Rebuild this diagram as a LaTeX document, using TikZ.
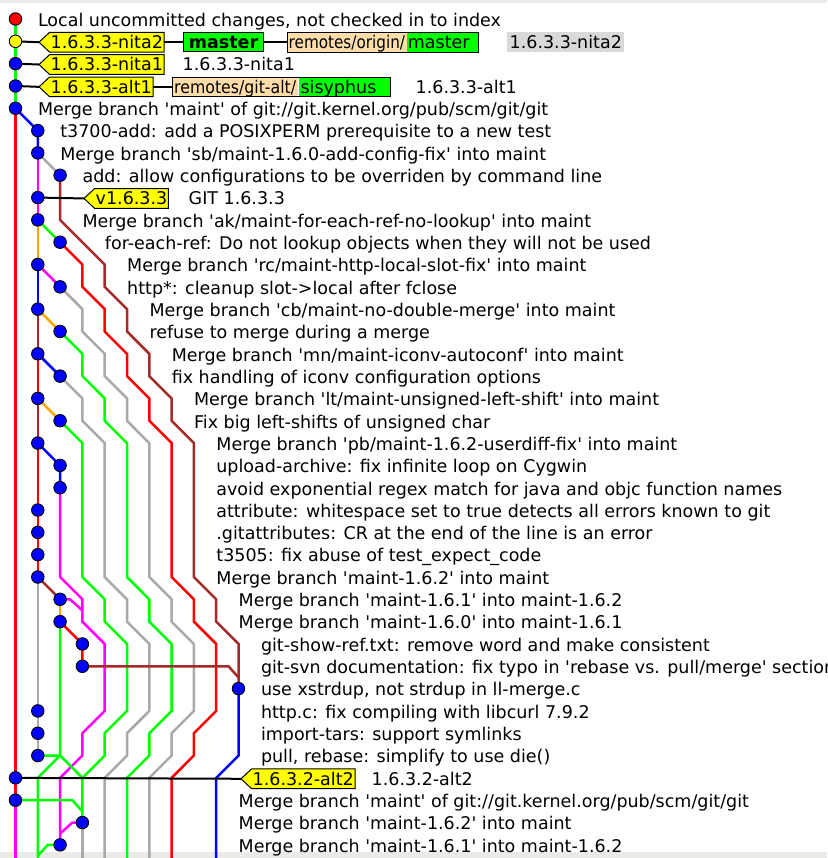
\documentclass[tikz,border=0pt]{standalone}
\usepackage{fontspec}
\setmainfont{DejaVu Sans}[Ligatures=TeXOff]
\definecolor{gblue}{HTML}{0000FF}
\definecolor{gred}{HTML}{FF0000}
\definecolor{ggreen}{HTML}{00FF00}
\definecolor{gmag}{HTML}{FF00FF}
\definecolor{ggray}{HTML}{A9A9A9}
\definecolor{gbrown}{HTML}{A52A2A}
\definecolor{gorange}{HTML}{FFA500}
\definecolor{tagyel}{HTML}{FFFF00}
\definecolor{rbeige}{HTML}{FFDDAA}
\definecolor{selgray}{HTML}{D9D9D9}
\definecolor{framegray}{HTML}{ECEAE6}
\pgfdeclarelayer{back}
\pgfdeclarelayer{lines}
\pgfsetlayers{back,lines,main}
\begin{document}
\begin{tikzpicture}[x=1pt,y=-1pt,font=\fontsize{17.5}{21}\selectfont,
  gl/.style={line width=2.5pt},
  bl/.style={line width=2pt,black},
  dot/.style={circle,draw=black,line width=0.9pt,fill=gblue,minimum size=12.5pt,inner sep=0pt},
  msg/.style={anchor=base west,inner sep=0pt,yshift=-7.3pt},
  plain/.style={anchor=base west,inner sep=0pt},
  box/.style={anchor=base west,inner xsep=2pt,inner ysep=3.2pt,text height=12.8pt,text depth=0pt},
  tagbox/.style={box,inner xsep=1pt},
  tagshape/.style={fill=tagyel,draw=black,line width=1pt}]
\useasboundingbox (0,0) rectangle (827,858);
% ---------- dots and messages ----------
\begin{scope}[shift={(15.5,19)},x=22.3pt,y=-22.32pt]
\node[dot,fill=gred] (d0) at (0,0) {};
\node[dot,fill=tagyel] (d1) at (0,1) {};
\node[dot] (d2) at (0,2) {};
\node[dot] (d3) at (0,3) {};
\node[dot] (d4) at (0,4) {};
\node[dot] (d5) at (1,5) {};
\node[dot] (d6) at (1,6) {};
\node[dot] (d7) at (2,7) {};
\node[dot] (d8) at (1,8) {};
\node[dot] (d9) at (1,9) {};
\node[dot] (d10) at (2,10) {};
\node[dot] (d11) at (1,11) {};
\node[dot] (d12) at (2,12) {};
\node[dot] (d13) at (1,13) {};
\node[dot] (d14) at (2,14) {};
\node[dot] (d15) at (1,15) {};
\node[dot] (d16) at (2,16) {};
\node[dot] (d17) at (1,17) {};
\node[dot] (d18) at (2,18) {};
\node[dot] (d19) at (1,19) {};
\node[dot] (d20) at (2,20) {};
\node[dot] (d21) at (2,21) {};
\node[dot] (d22) at (1,22) {};
\node[dot] (d23) at (1,23) {};
\node[dot] (d24) at (1,24) {};
\node[dot] (d25) at (1,25) {};
\node[dot] (d26) at (2,26) {};
\node[dot] (d27) at (2,27) {};
\node[dot] (d28) at (3,28) {};
\node[dot] (d29) at (3,29) {};
\node[dot] (d30) at (10,30) {};
\node[dot] (d31) at (1,31) {};
\node[dot] (d32) at (1,32) {};
\node[dot] (d33) at (1,33) {};
\node[dot] (d34) at (0,34) {};
\node[dot] (d35) at (0,35) {};
\node[dot] (d36) at (3,36) {};
\node[dot] (d37) at (2,37) {};
\node[msg] (m0) at (1,0) {Local uncommitted changes, not checked in to index};
\node[msg] (m4) at (1,4) {Merge branch 'maint' of git://git.kernel.org/pub/scm/git/git};
\node[msg] (m5) at (2,5) {t3700-add: add a POSIXPERM prerequisite to a new test};
\node[msg] (m6) at (2,6) {Merge branch 'sb/maint-1.6.0-add-config-fix' into maint};
\node[msg] (m7) at (3,7) {add: allow configurations to be overriden by command line};
\node[msg] (m9) at (3,9) {Merge branch 'ak/maint-for-each-ref-no-lookup' into maint};
\node[msg] (m10) at (4,10) {for-each-ref: Do not lookup objects when they will not be used};
\node[msg] (m11) at (5,11) {Merge branch 'rc/maint-http-local-slot-fix' into maint};
\node[msg] (m12) at (5,12) {http*: cleanup slot->local after fclose};
\node[msg] (m13) at (6,13) {Merge branch 'cb/maint-no-double-merge' into maint};
\node[msg] (m14) at (6,14) {refuse to merge during a merge};
\node[msg] (m15) at (7,15) {Merge branch 'mn/maint-iconv-autoconf' into maint};
\node[msg] (m16) at (7,16) {fix handling of iconv configuration options};
\node[msg] (m17) at (8,17) {Merge branch 'lt/maint-unsigned-left-shift' into maint};
\node[msg] (m18) at (8,18) {Fix big left-shifts of unsigned char};
\node[msg] (m19) at (9,19) {Merge branch 'pb/maint-1.6.2-userdiff-fix' into maint};
\node[msg] (m20) at (9,20) {upload-archive: fix infinite loop on Cygwin};
\node[msg] (m21) at (9,21) {avoid exponential regex match for java and objc function names};
\node[msg] (m22) at (9,22) {attribute: whitespace set to true detects all errors known to git};
\node[msg] (m23) at (9,23) {.gitattributes: CR at the end of the line is an error};
\node[msg] (m24) at (9,24) {t3505: fix abuse of test\_expect\_code};
\node[msg] (m25) at (9,25) {Merge branch 'maint-1.6.2' into maint};
\node[msg] (m26) at (10,26) {Merge branch 'maint-1.6.1' into maint-1.6.2};
\node[msg] (m27) at (10,27) {Merge branch 'maint-1.6.0' into maint-1.6.1};
\node[msg] (m28) at (11,28) {git-show-ref.txt: remove word and make consistent};
\node[msg] (m29) at (11,29) {git-svn documentation: fix typo in 'rebase vs. pull/merge' section};
\node[msg] (m30) at (11,30) {use xstrdup, not strdup in ll-merge.c};
\node[msg] (m31) at (11,31) {http.c: fix compiling with libcurl 7.9.2};
\node[msg] (m32) at (11,32) {import-tars: support symlinks};
\node[msg] (m33) at (11,33) {pull, rebase: simplify to use die()};
\node[msg] (m35) at (10,35) {Merge branch 'maint' of git://git.kernel.org/pub/scm/git/git};
\node[msg] (m36) at (10,36) {Merge branch 'maint-1.6.2' into maint};
\node[msg] (m37) at (10,37) {Merge branch 'maint-1.6.1' into maint-1.6.2};
\end{scope}
% ---------- tags, heads, remotes ----------
\node[tagbox] (t1) at (49.5,48.62) {1.6.3.3-nita2};
\node[tagbox] (t2) at (49.5,70.94) {1.6.3.3-nita1};
\node[tagbox] (t3) at (49.5,93.26) {1.6.3.3-alt1};
\node[tagbox] (t8) at (94.5,204.86) {v1.6.3.3};
\node[tagbox] (t34) at (251.5,785.18) {1.6.3.2-alt2};
\coordinate (t1tip) at ([xshift=-10.5pt]t1.west);
\coordinate (t2tip) at ([xshift=-10.5pt]t2.west);
\coordinate (t3tip) at ([xshift=-10.5pt]t3.west);
\coordinate (t8tip) at ([xshift=-10.5pt]t8.west);
\coordinate (t34tip) at ([xshift=-10.5pt]t34.west);
\node[box,fill=ggreen,draw=black,line width=1pt,minimum width=80pt,font=\fontsize{17.5}{21}\selectfont\bfseries] (hm) at (183,48.62) {master};
\node[box,fill=rbeige,inner xsep=1.5pt] (ro1) at (287,48.62) {\scalebox{0.87}[1]{remotes/origin/}};
\node[box,fill=ggreen,inner xsep=1pt] (ro2) at (ro1.base east) {\makebox[69pt][l]{master}};
\draw[line width=1pt] (ro1.north west) rectangle (ro2.south east);
\node[box,fill=selgray,inner xsep=2.5pt,inner ysep=3.8pt] (sel) at (507,48.62) {1.6.3.3-nita2};
\node[plain] (n2) at (182.5,70.94) {1.6.3.3-nita1};
\node[box,fill=rbeige,inner xsep=2pt] (a1) at (172,93.26) {\scalebox{0.9}[1]{remotes/git-alt/}};
\node[box,fill=ggreen,inner xsep=2pt] (a2) at (a1.base east) {\makebox[88pt][l]{sisyphus}};
\draw[line width=1pt] (a1.north west) rectangle (a2.south east);
\node[plain] (n3) at (415.5,93.26) {1.6.3.3-alt1};
\node[plain] (n8) at (188.5,204.86) {GIT 1.6.3.3};
\node[plain] (n34) at (371.5,785.18) {1.6.3.2-alt2};
% ---------- graph lines ----------
\begin{pgfonlayer}{lines}
\begin{scope}[shift={(15.5,19)},x=22.3pt,y=-22.32pt]
\draw[gl,ggreen] (d0.center) -- (d1.center) -- (d2.center) -- (d3.center) -- (d4.center);
\draw[gl,gred] (d4.center) -- (d34.center) -- (d35.center);
\draw[gl,gmag] (d35.center) -- (0,38.5);
\draw[gl,gblue] (d4.center) -- (d5.center) -- (d6.center);
\draw[gl,ggray] (d6.center) -- (d7.center);
\draw[gl,gmag] (d6.center) -- (d8.center) -- (d9.center);
\draw[gl,gbrown] (d7.center) -- (2,9) -- (4,11) -- (4,12) -- (5,13) -- (5,14) -- (6,15) -- (6,16) -- (7,17) -- (7,18) -- (8,19) -- (8,25) -- (9,26) -- (9,27) -- (10,28) -- (d30.center);
\draw[gl,ggreen] (d9.center) -- (d10.center);
\draw[gl,gorange] (d9.center) -- (d11.center);
\draw[gl,gred] (d10.center) -- (3,11) -- (3,12) -- (4,13) -- (4,14) -- (5,15) -- (5,16) -- (6,17) -- (6,18) -- (7,19) -- (7,25) -- (8,26) -- (8,27) -- (9,28) -- (9,31) -- (8,32) -- (8,33) -- (7,34) -- (7,38.5);
\draw[gl,gmag] (d11.center) -- (d12.center);
\draw[gl,gblue] (d11.center) -- (d13.center);
\draw[gl,ggray] (d12.center) -- (3,13) -- (3,14) -- (4,15) -- (4,16) -- (5,17) -- (5,18) -- (6,19) -- (6,25) -- (7,26) -- (7,27) -- (8,28) -- (8,31) -- (7,32) -- (7,33) -- (6,34) -- (6,38.5);
\draw[gl,gorange] (d13.center) -- (d14.center);
\draw[gl,gbrown] (d13.center) -- (d15.center);
\draw[gl,ggreen] (d14.center) -- (3,15) -- (3,16) -- (4,17) -- (4,18) -- (5,19) -- (5,25) -- (6,26) -- (6,27) -- (7,28) -- (7,31) -- (6,32) -- (6,33) -- (5,34) -- (5,38.5);
\draw[gl,gblue] (d15.center) -- (d16.center);
\draw[gl,gred] (d15.center) -- (d17.center);
\draw[gl,ggray] (d16.center) -- (3,17) -- (3,18) -- (4,19) -- (4,25) -- (5,26) -- (5,27) -- (6,28) -- (6,31) -- (5,32) -- (5,33) -- (4,34) -- (4,38.5);
\draw[gl,gorange] (d17.center) -- (d18.center);
\draw[gl,gbrown] (d17.center) -- (d19.center);
\draw[gl,ggreen] (d18.center) -- (3,19) -- (3,25) -- (4,26) -- (4,27) -- (5,28) -- (5,31) -- (4,32) -- (4,33) -- (3,34) -- (d36.center);
\draw[gl,gblue] (d19.center) -- (d20.center) -- (d21.center);
\draw[gl,gred] (d19.center) -- (d22.center) -- (d23.center) -- (d24.center) -- (d25.center);
\draw[gl,gmag] (d21.center) -- (2,25) -- (3,26) -- (3,27) -- (4,28) -- (4,31) -- (3,32) -- (3,33) -- (2,34) -- (d37.center);
\draw[gl,ggray] (d25.center) -- (d31.center) -- (d32.center) -- (d33.center);
\draw[gl,gbrown] (d25.center) -- (d26.center);
\draw[gl,gmag] (d26.center) -- (2.45,26) -- (3,26.5);
\draw[gl,gorange] (d26.center) -- (d27.center);
\draw[gl,gred] (d27.center) -- (d28.center) -- (d29.center);
\draw[gl,ggreen] (d27.center) -- (2,33) -- (1,34) -- (1,38.5);
\draw[gl,gbrown] (d29.center) -- (9.55,29) -- (10,29.5);
\draw[gl,gblue] (d30.center) -- (10,33) -- (9,34) -- (9,38.5);
\draw[gl,ggreen] (d33.center) -- (2,33) -- (3,34);
\draw[gl,ggreen] (d35.center) -- (2.55,35) -- (3,35.5);
\draw[gl,ggray] (d36.center) -- (3,38.5);
\draw[gl,gmag] (d36.center) -- (2.55,36) -- (2,36.5);
\draw[gl,ggreen] (d37.center) -- (1.45,37) -- (1,37.5);
\end{scope}
% black ref lines
\draw[bl] (d1.center) -- (t1tip);
\draw[bl] (t1.east) -- (hm.west);
\draw[bl] (hm.east) -- (ro1.west);
\draw[bl] (d2.center) -- (t2tip);
\draw[bl] (d3.center) -- (t3tip);
\draw[bl] (t3.east) -- (a1.west);
\draw[bl] (d8.center) -- (t8tip);
\draw[bl] (d34.center) -- (t34tip);
% tag shapes
\foreach \t in {t1,t2,t3,t8,t34}{
  \draw[tagshape] (\t tip) -- (\t.north west) -- (\t.north east) -- (\t.south east) -- (\t.south west) -- cycle;
}
\end{pgfonlayer}
% ---------- background ----------
\begin{pgfonlayer}{back}
\fill[framegray] (0,0) rectangle (827,858);
\fill[white] (0,3.5) rectangle (827,851.5);
\end{pgfonlayer}
\end{tikzpicture}
\end{document}
